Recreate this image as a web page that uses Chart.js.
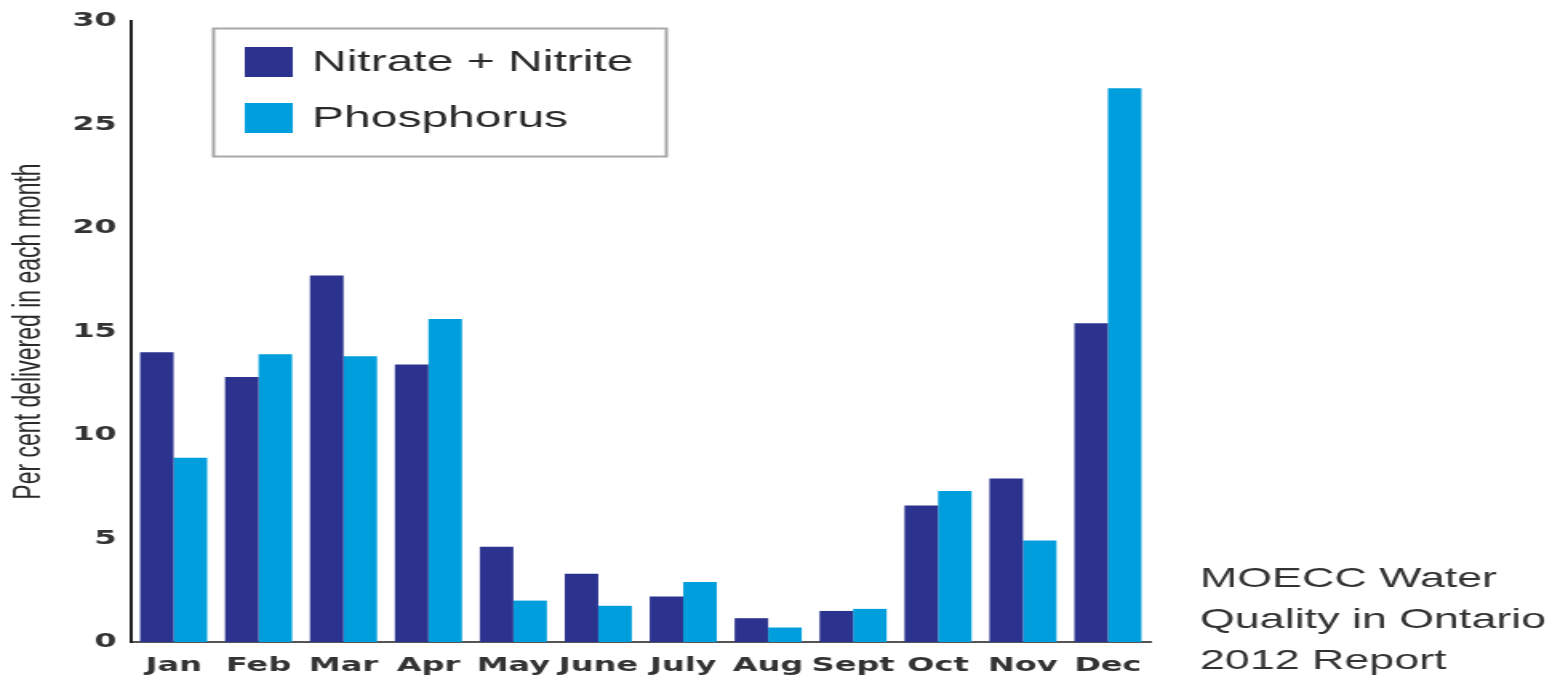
<!DOCTYPE html>
<html>
<head>
<meta charset="utf-8">
<script src="https://cdn.jsdelivr.net/npm/chart.js@4/dist/chart.umd.min.js"></script>
<style>
  html, body { margin: 0; padding: 0; background: #fff; overflow: hidden; }
  /* the source picture is stretched sideways, so the whole drawing is too */
  #wrap { width: 966px; height: 679px; transform: scaleX(1.6); transform-origin: 0 0; }
</style>
</head>
<body>
<div id="wrap"><canvas id="nutrientChart" width="966" height="679"></canvas></div>
<script>
// monthly share of annual load (%)
const months = ['Jan', 'Feb', 'Mar', 'Apr', 'May', 'June', 'July', 'Aug', 'Sept', 'Oct', 'Nov', 'Dec'];
const nitrateNitrite = [14.0, 12.8, 17.7, 13.4, 4.6, 3.3, 2.2, 1.15, 1.5, 6.6, 7.9, 15.4];
const phosphorus = [8.9, 13.9, 13.8, 15.6, 2.0, 1.75, 2.9, 0.7, 1.6, 7.3, 4.9, 26.75];
const yTicks = [0, 5, 10, 15, 20, 25, 30];
const noteLines = ['MOECC Water', 'Quality in Ontario', '2012 Report'];

const NAVY = '#2b338f';
const CYAN = '#009edc';

// boxed legend in the upper left of the plot, plus the source note on the right
const extrasPlugin = {
    id: 'extras',
    afterDraw(chart) {
        const ctx = chart.ctx;
        ctx.save();

        ctx.strokeStyle = '#a8a8a8';
        ctx.lineWidth = 2;
        ctx.strokeRect(133.5, 28.5, 283, 128);

        ctx.font = '30px "Liberation Sans", Arial, sans-serif';
        ctx.textBaseline = 'middle';
        chart.data.datasets.forEach((ds, i) => {
            const y = 62 + i * 56;
            ctx.fillStyle = ds.backgroundColor;
            ctx.fillRect(153, y - 15, 30, 30);
            ctx.fillStyle = '#2a2a2a';
            ctx.fillText(ds.label, 195, y + 1);
        });

        ctx.font = '28px "Liberation Sans", Arial, sans-serif';
        ctx.fillStyle = '#333';
        noteLines.forEach((line, i) => ctx.fillText(line, 750, 579 + i * 41));

        ctx.restore();
    }
};

new Chart(document.getElementById('nutrientChart'), {
    type: 'bar',
    data: {
        labels: months,
        datasets: [
            { label: 'Nitrate + Nitrite', data: nitrateNitrite, backgroundColor: NAVY },
            { label: 'Phosphorus', data: phosphorus, backgroundColor: CYAN }
        ]
    },
    options: {
        responsive: false,
        animation: false,
        devicePixelRatio: 1,
        layout: { padding: { top: 16, right: 247, bottom: 0, left: 0 } },
        datasets: { bar: { categoryPercentage: 0.79, barPercentage: 1.0 } },
        plugins: { legend: { display: false }, tooltip: { enabled: false } },
        scales: {
            x: {
                grid: { display: false, drawTicks: false },
                border: { display: true, color: '#555', width: 2 },
                ticks: {
                    padding: 12,
                    color: '#333',
                    font: { family: '"DejaVu Sans", sans-serif', size: 20, weight: 'bold' },
                    maxRotation: 0,
                    autoSkip: false
                },
                afterFit: (scale) => { scale.height = 37; }
            },
            y: {
                min: 0,
                max: 30,
                afterBuildTicks: (scale) => { scale.ticks = yTicks.map(v => ({ value: v })); },
                grid: { display: false, drawTicks: false },
                border: { display: true, color: '#222', width: 2 },
                ticks: {
                    padding: 9,
                    color: '#333',
                    font: { family: '"DejaVu Sans", sans-serif', size: 20, weight: 'bold' }
                },
                title: {
                    display: true,
                    text: 'Per cent delivered in each month',
                    color: '#2a2a2a',
                    font: { family: '"Liberation Sans", Arial, sans-serif', size: 23 },
                    padding: { top: 5, bottom: 0 }
                },
                afterFit: (scale) => { scale.width = 82; }
            }
        }
    },
    plugins: [extrasPlugin]
});
</script>
</body>
</html>
